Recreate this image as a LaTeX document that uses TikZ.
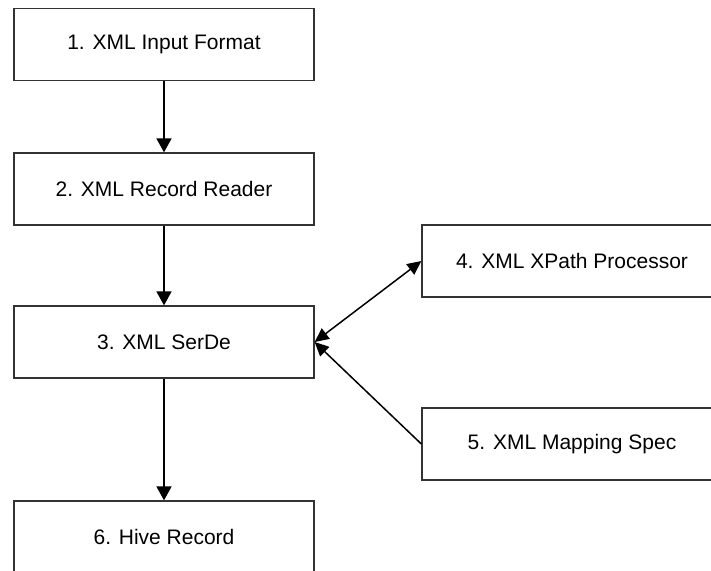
\documentclass[tikz,border=0pt]{standalone}
\usepackage{fontspec}
\setmainfont{Liberation Sans}
\usetikzlibrary{arrows.meta}
\begin{document}
\begin{tikzpicture}[x=1pt,y=-1pt,
  box/.style={draw=black!80, line width=1.3pt, minimum width=300pt, minimum height=72pt, inner sep=0pt, font=\fontsize{21}{25}\selectfont, fill=white},
  flow/.style={line width=1.8pt, -{Triangle[length=14pt,width=15pt]}},
  side/.style={line width=1.5pt, -{Triangle[length=14pt,width=13pt]}}]
\useasboundingbox (0,0) rectangle (711,570);
\clip (0,0) rectangle (711,570);
\node[box] (b1) at (164,44.5) {1. XML Input Format};
\node[box] (b2) at (164,189) {2. XML Record Reader};
\node[box] (b3) at (164,342) {3. XML SerDe};
\node[box] (b4) at (572,261) {4. XML XPath Processor};
\node[box] (b5) at (572,444) {5. XML Mapping Spec};
\node[box] (b6) at (164,537) {6. Hive Record};
\draw[flow] (b1.south) -- (b2.north);
\draw[flow] (b2.south) -- (b3.north);
\draw[flow] (b3.south) -- (b6.north);
\draw[side, {Triangle[length=14pt,width=13pt]}-{Triangle[length=14pt,width=13pt]}] (b3.east) -- (b4.west);
\draw[side] (b5.west) -- (b3.east);
\end{tikzpicture}
\end{document}
